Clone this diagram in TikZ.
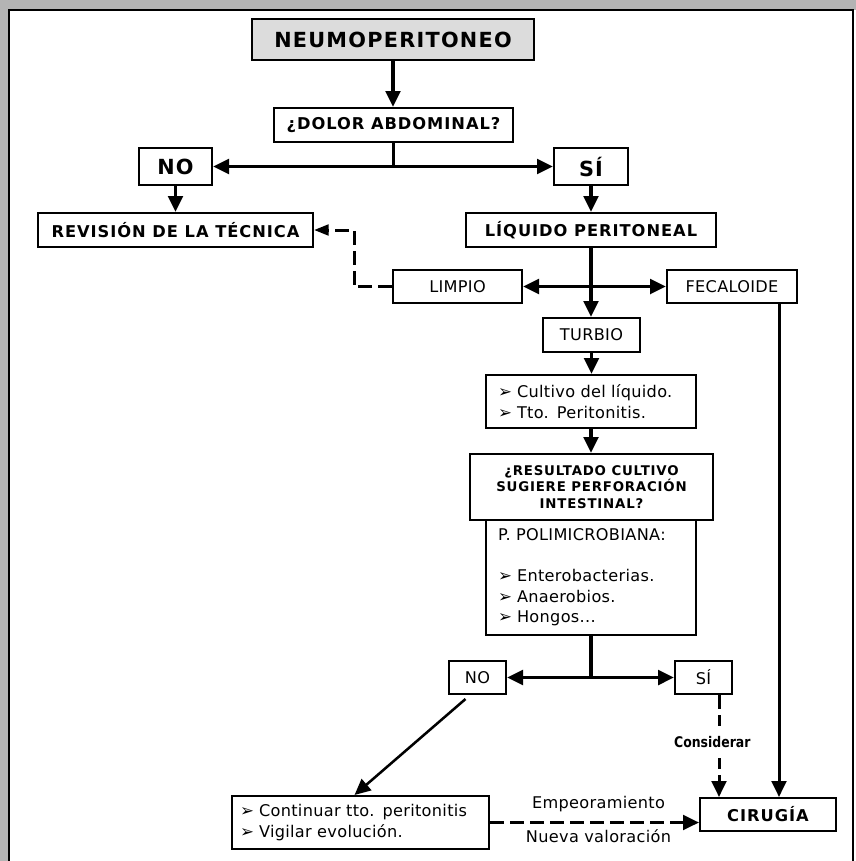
\documentclass[tikz,border=0pt]{standalone}
\usepackage{fontspec}
\setmainfont{DejaVu Sans}
\newfontfamily\regfam{DejaVu Sans}[LetterSpace=2]
\newfontfamily\boldfam{DejaVu Sans}[LetterSpace=6]
\newfontfamily\condfam{DejaVu Sans}[FakeStretch=0.85]
\newfontfamily\plainfam{DejaVu Sans}
\usetikzlibrary{arrows.meta,calc}

\definecolor{framegray}{HTML}{B4B4B4}
\definecolor{titlegray}{HTML}{DCDCDC}

\newcommand{\bigbold}{\boldfam\bfseries\fontsize{15.6}{18}\selectfont}
\newcommand{\midbold}{\boldfam\bfseries\fontsize{12.2}{14.5}\selectfont}
\newcommand{\smallbold}{\boldfam\bfseries\fontsize{10}{12.2}\selectfont}
\newcommand{\condbold}{\condfam\bfseries\fontsize{11}{13}\selectfont}
\newcommand{\regtext}{\regfam\fontsize{12.1}{15.4}\selectfont}
\newcommand{\mk}{\makebox[14.25pt][l]{\plainfam\fontsize{12.5}{12.5}\selectfont ➢}}

\begin{document}
\begin{tikzpicture}[x=0.75pt,y=-0.75pt,
  box/.style={draw, line width=1.5pt, inner sep=0pt, align=center},
  tip/.style={-{Triangle[length=12pt,width=11pt]}},
  arr/.style={line width=2.6pt, tip},
  darr/.style={line width=2.25pt, dash pattern=on 10.5pt off 4.5pt, tip},
  sarr/.style={line width=2.25pt, dash pattern=on 10.5pt off 4.5pt,
               -{Triangle[length=11pt,width=8pt]}}]

\useasboundingbox (0,0) rectangle (856,861);

% page frame
\fill[framegray] (0,0) rectangle (856,861);
\fill[white] (9,10) rectangle (856,861);
\draw[line width=1.5pt] (8,10) -- (853,10);
\draw[line width=1.5pt] (9,9) -- (9,861);
\draw[line width=1pt] (853,9) -- (853,861);

% boxes
\node[box, fill=titlegray, minimum width=211.5pt, minimum height=30.75pt, font=\bigbold] (neumo) at (393,39.5) {NEUMOPERITONEO};
\node[box, minimum width=179.25pt, minimum height=25.5pt, font=\midbold] (dolor) at (393.5,125) {¿DOLOR ABDOMINAL?};
\node[box, minimum width=54.75pt, minimum height=27.75pt, font=\bigbold] (no) at (175.5,166.5) {NO};
\node[box, minimum width=55.5pt, minimum height=27.75pt, font=\bigbold] (si) at (591,166.5) {SÍ};
\node[box, minimum width=206.25pt, minimum height=25.5pt, font=\midbold] (rev) at (175.5,230) {REVISIÓN DE LA TÉCNICA};
\node[box, minimum width=187.5pt, minimum height=25.5pt, font=\midbold] (liq) at (591,230) {LÍQUIDO PERITONEAL};
\node[box, minimum width=96.75pt, minimum height=24.75pt, font=\regtext] (limpio) at (457.5,286.5) {LIMPIO};
\node[box, minimum width=97.5pt, minimum height=24.75pt, font=\regtext] (fecal) at (732,286.5) {FECALOIDE};
\node[box, minimum width=72.75pt, minimum height=25.5pt, font=\regtext] (turbio) at (591.5,335) {TURBIO};
\node[box, text width=139.5pt, inner xsep=9pt, minimum height=39.75pt, align=left, font=\regtext] (cult) at (591,401.5)
  {\mk Cultivo del líquido.\\\mk Tto. Peritonitis.};
\node[box, minimum width=182.25pt, minimum height=49.5pt, font=\smallbold] (res) at (591.5,487)
  {¿RESULTADO CULTIVO\\SUGIERE PERFORACIÓN\\INTESTINAL?};
\node[box, text width=139.5pt, inner xsep=9pt, minimum height=86.25pt, align=left, font=\regtext] (poli) at (591,577.5)
  {P. POLIMICROBIANA:\\[15.4pt]\mk Enterobacterias.\\\mk Anaerobios.\\\mk Hongos...};
\node[box, minimum width=42.75pt, minimum height=24.75pt, font=\regtext] (no2) at (477.5,677.5) {NO};
\node[box, minimum width=42.75pt, minimum height=24.75pt, font=\regtext] (si2) at (703.5,677.5) {SÍ};
\node[box, text width=180.75pt, inner xsep=6pt, minimum height=39.75pt, align=left, font=\regtext] (cont) at (360.5,822.5)
  {\mk Continuar tto. peritonitis\\\mk Vigilar evolución.};
\node[box, minimum width=102pt, minimum height=24.75pt, font=\midbold] (cir) at (768,814.5) {CIRUGÍA};

% connectors
\draw[arr] (neumo.south) -- (neumo.south |- dolor.north);
\draw[arr] (dolor.south) |- (no.east);
\draw[arr] (dolor.south) |- (si.west);
\draw[arr] (no.south) -- (rev.north);
\draw[arr] (si.south) -- (liq.north);
\draw[arr] (liq.south) -- (liq.south |- turbio.north);
\draw[line width=2.6pt, {Triangle[length=12pt,width=11pt]}-{Triangle[length=12pt,width=11pt]}] (limpio.east) -- (fecal.west);
\draw[sarr] (limpio.west) -- ++(-38,0) |- (rev.east);
\draw[arr] (turbio.south) -- (turbio.south |- cult.north);
\draw[arr] (cult.south) -- (cult.south |- res.north);
\draw[arr] (poli.south) |- (no2.east);
\draw[arr] (poli.south) |- (si2.west);
\draw[line width=1.9pt, tip] ($(no2.south)+(-12,4)$) -- ($(cont.north)+(-6,0)$);
\coordinate (sd) at ($(si2.south)+(15.5,0)$);
\draw[darr] (sd) -- (sd |- cir.north)
  node[pos=0.46, fill=white, inner xsep=2pt, inner ysep=8pt, xshift=-5pt, font=\condbold] {Considerar};
\coordinate (fd) at ($(fecal.south)+(47,0)$);
\draw[line width=2.25pt, tip] (fd) -- (fd |- cir.north);
\draw[darr] (cont.east) -- (cont.east -| cir.west)
  node[midway, yshift=13.9pt, xshift=3pt, font=\regtext] {Empeoramiento}
  node[midway, yshift=-10.1pt, xshift=3pt, font=\regtext] {Nueva valoración};

\end{tikzpicture}
\end{document}
